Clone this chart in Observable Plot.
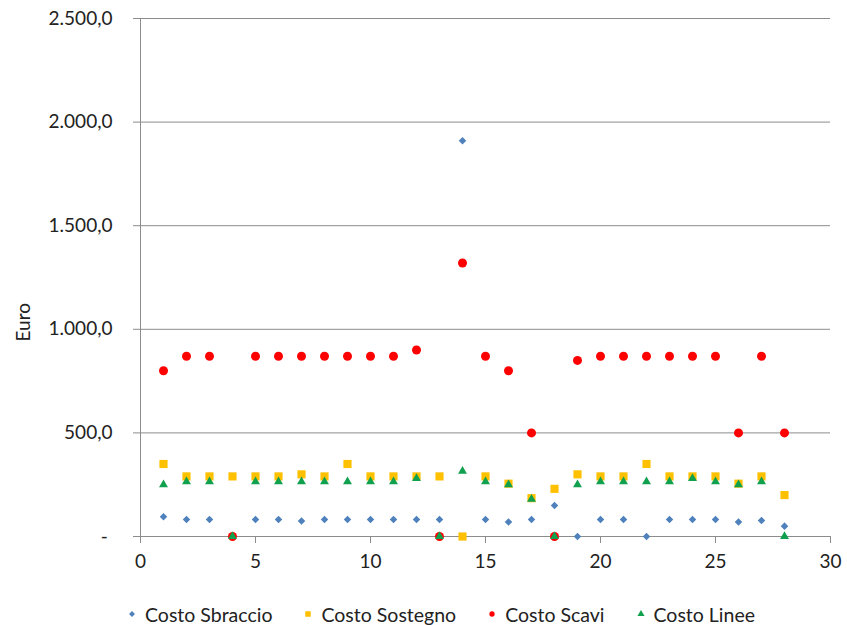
<!DOCTYPE html>
<html>
<head>
<meta charset="utf-8">
<script src="https://cdn.jsdelivr.net/npm/d3@7"></script>
<script src="https://cdn.jsdelivr.net/npm/@observablehq/plot@0.6"></script>
<style>
  body { margin: 0; background: #fff; font-family: Lato, "Open Sans", sans-serif; }
  #chart svg { display: block; }
  .legend { display: flex; align-items: center; margin-left: 126px; height: 30px; font-size: 19.5px; color: #222; }
  .legend .item { display: flex; align-items: center; margin-right: 30px; }
  .legend svg { margin-right: 7px; }
</style>
</head>
<body>
<div id="chart"></div>
<div class="legend" id="legend"></div>
<script>
// Point index (sostegno number)
const punti = [1, 2, 3, 4, 5, 6, 7, 8, 9, 10, 11, 12, 13, 14, 15, 16, 17, 18, 19, 20, 21, 22, 23, 24, 25, 26, 27, 28];

// Costs in euro per point
const costoSbraccio = [95, 82, 82, 0, 82, 82, 75, 82, 82, 82, 82, 82, 82, 1910, 82, 70, 82, 150, 0, 82, 82, 0, 82, 82, 82, 70, 77, 50];
const costoSostegno = [350, 290, 290, 290, 290, 290, 300, 290, 350, 290, 290, 290, 290, 0, 290, 255, 185, 230, 300, 290, 290, 350, 290, 290, 290, 255, 290, 200];
const costoScavi = [800, 870, 870, 0, 870, 870, 870, 870, 870, 870, 870, 900, 0, 1320, 870, 800, 500, 0, 850, 870, 870, 870, 870, 870, 870, 500, 870, 500];
const costoLinee = [250, 265, 265, 0, 265, 265, 265, 265, 265, 265, 265, 280, 0, 315, 265, 250, 180, 0, 250, 265, 265, 265, 265, 280, 265, 250, 265, 0];

const xTicks = [0, 5, 10, 15, 20, 25, 30];
const yTicks = [0, 500, 1000, 1500, 2000, 2500];

const series = [
  {name: "Costo Sbraccio", values: costoSbraccio, symbol: "diamond2", r: 3.4, color: "#4F81BD"},
  {name: "Costo Sostegno", values: costoSostegno, symbol: "square", r: 4.6, color: "#FFC000"},
  {name: "Costo Scavi", values: costoScavi, symbol: "circle", r: 4.5, color: "#FF0000"},
  {name: "Costo Linee", values: costoLinee, symbol: "triangle", r: 3.3, color: "#11A04E"}
];

const it = d3.formatLocale({decimal: ",", thousands: ".", grouping: [3], currency: ["€", ""]});
const fmt = it.format(",.1f");
const yFormat = d => d === 0 ? "-\u2005" : fmt(d);

const gridColor = "#8c8c8c";
const fs = 19;

const marks = [
  Plot.gridY(yTicks.filter(d => d > 0), {stroke: gridColor, strokeOpacity: 1, strokeWidth: 1}),
  Plot.ruleX([0], {stroke: gridColor}),
  Plot.ruleY([0], {stroke: gridColor}),
  Plot.axisY({ticks: yTicks, tickFormat: yFormat, tickSize: 7, tickPadding: 21, stroke: gridColor,
    label: null, fontSize: fs, fill: "#222"}),
  Plot.axisX({ticks: xTicks, tickSize: 7, tickPadding: 11, stroke: gridColor, label: null, fontSize: fs, fill: "#222"}),
  // Y axis title
  Plot.text(["Euro"], {text: d => d, frameAnchor: "left", dx: -117, dy: 64, rotate: -90, fontSize: fs, fill: "#222"})
];

for (const s of series) {
  const rows = punti.map((p, i) => ({x: p, y: s.values[i]}));
  marks.push(Plot.dot(rows, {x: "x", y: "y", symbol: () => s.symbol, r: s.r, fill: s.color, stroke: "none"}));
}

const chart = Plot.plot({
  width: 847,
  height: 590,
  marginTop: 18,
  marginLeft: 140,
  marginRight: 17,
  marginBottom: 54,
  style: {fontFamily: "Lato, 'Open Sans', sans-serif", fontSize: fs + "px", color: "#222"},
  x: {domain: [0, 30]},
  y: {domain: [0, 2500]},
  symbol: {type: "identity"},
  marks
});
document.getElementById("chart").appendChild(chart);

// Legend below the plot
const legend = document.getElementById("legend");
for (const s of series) {
  const item = document.createElement("div");
  item.className = "item";
  const sym = d3.create("svg").attr("width", 12).attr("height", 12);
  const path = d3.symbol(
    s.symbol === "diamond2" ? d3.symbolDiamond2 :
    s.symbol === "square" ? d3.symbolSquare :
    s.symbol === "circle" ? d3.symbolCircle : d3.symbolTriangle,
    s.symbol === "circle" ? 22 : s.symbol === "square" ? 30 : 22)();
  sym.append("path").attr("d", path).attr("transform", "translate(6,6)").attr("fill", s.color);
  item.appendChild(sym.node());
  const label = document.createElement("span");
  label.textContent = s.name;
  item.appendChild(label);
  legend.appendChild(item);
}
legend.style.marginTop = "9px";
</script>
</body>
</html>
